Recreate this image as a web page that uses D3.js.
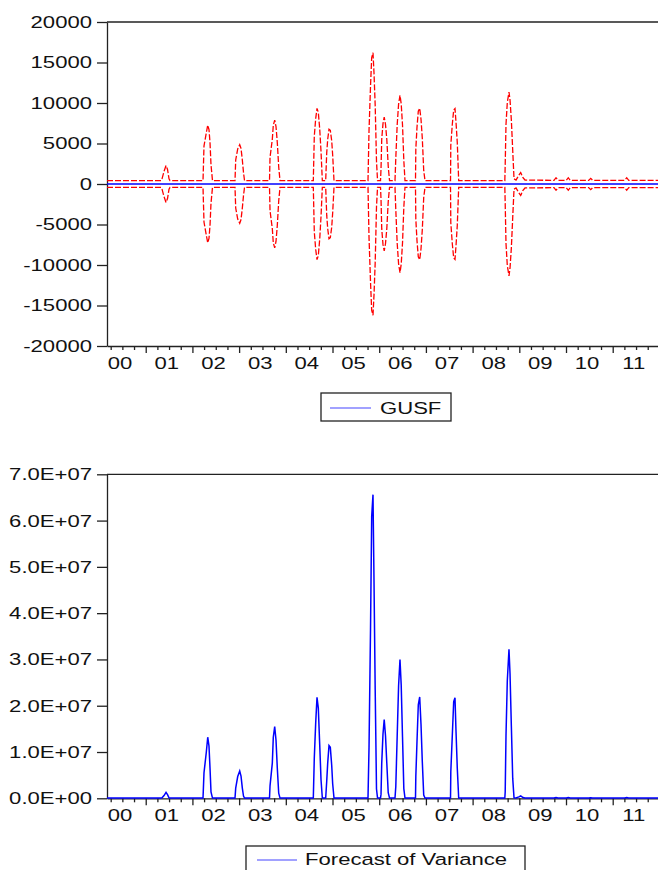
<!DOCTYPE html>
<head>
<meta charset="utf-8">
<title>GUSF forecast</title>
<style>
html, body { margin:0; padding:0; background:#fff; overflow:hidden; }
svg { display:block; }
text { font-family: 'Liberation Sans', Arial, sans-serif; font-size: 17px; fill: #111; }
</style>
</head>
<body>
<svg id="stage" width="658" height="870"></svg>
<script src="https://d3js.org/d3.v7.min.js"></script>
<script>

var years = ["00","01","02","03","04","05","06","07","08","09","10","11"];

var gusfTicks = [-20000, -15000, -10000, -5000, 0, 5000, 10000, 15000, 20000];
var gusfTickLabels = ["-20000","-15000","-10000","-5000","0","5000","10000","15000","20000"];

var varTicks = [0, 1e7, 2e7, 3e7, 4e7, 5e7, 6e7, 7e7];
var varTickLabels = ["0.0E+00","1.0E+07","2.0E+07","3.0E+07","4.0E+07","5.0E+07","6.0E+07","7.0E+07"];

// GUSF forecast: flat at zero over the whole sample
var gusf = [[2000.171, 0], [2011.970, 0]];

// forecast variance, [date (decimal year), value]
var variance = [
  [2000.171, 4.2e4], [2001.328, 4.2e4],
  [2001.349, 0.1e6], [2001.392, 0.6e6], [2001.435, 1.3e6], [2001.467, 0.8e6], [2001.499, 0.1e6],
  [2001.520, 4.2e4], [2002.227, 4.2e4],
  [2002.248, 5.5e6], [2002.298, 10.0e6], [2002.328, 13.2e6], [2002.355, 11.3e6], [2002.377, 6.5e6], [2002.398, 1.4e6],
  [2002.430, 4.2e4], [2002.912, 4.2e4],
  [2002.927, 2.2e6], [2002.970, 4.7e6], [2003.013, 5.9e6], [2003.041, 4.8e6], [2003.069, 2.2e6], [2003.094, 0.5e6],
  [2003.116, 4.2e4], [2003.651, 4.2e4],
  [2003.662, 2.7e6], [2003.711, 7.6e6], [2003.732, 13.2e6], [2003.762, 15.5e6], [2003.790, 12.6e6], [2003.818, 6.5e6], [2003.848, 1.1e6],
  [2003.876, 4.2e4], [2004.589, 4.2e4],
  [2004.610, 8.7e6], [2004.640, 16.3e6], [2004.668, 21.8e6], [2004.696, 19.5e6], [2004.726, 11.6e6], [2004.754, 4.0e6],
  [2004.782, 4.2e4], [2004.854, 4.2e4],
  [2004.876, 3.7e6], [2004.897, 7.6e6], [2004.925, 11.4e6], [2004.953, 11.0e6], [2004.983, 7.1e6], [2005.004, 3.1e6],
  [2005.032, 4.2e4], [2005.760, 4.2e4],
  [2005.782, 11.0e6], [2005.814, 36.6e6], [2005.839, 60.9e6], [2005.867, 65.6e6], [2005.889, 46.5e6], [2005.914, 23.5e6], [2005.942, 2.0e6],
  [2005.964, 4.2e4], [2006.028, 4.2e4],
  [2006.039, 0.9e6], [2006.054, 7.6e6], [2006.081, 13.9e6], [2006.107, 17.0e6], [2006.135, 13.5e6], [2006.163, 7.5e6], [2006.193, 1.2e6],
  [2006.221, 4.2e4], [2006.338, 4.2e4],
  [2006.355, 2.5e6], [2006.385, 13.4e6], [2006.415, 24.3e6], [2006.445, 30.0e6], [2006.471, 24.5e6], [2006.499, 13.3e6], [2006.527, 2.1e6],
  [2006.552, 4.2e4], [2006.777, 4.2e4],
  [2006.784, 4.7e6], [2006.809, 12.2e6], [2006.837, 20.2e6], [2006.867, 21.9e6], [2006.895, 16.0e6], [2006.923, 7.9e6], [2006.953, 0.7e6],
  [2006.981, 4.2e4], [2007.527, 4.2e4],
  [2007.533, 5.7e6], [2007.565, 13.5e6], [2007.595, 20.9e6], [2007.623, 21.7e6], [2007.645, 14.4e6], [2007.672, 6.5e6],
  [2007.702, 4.2e4], [2008.690, 4.2e4],
  [2008.698, 1.4e6], [2008.715, 13.5e6], [2008.743, 25.4e6], [2008.779, 32.2e6], [2008.801, 27.0e6], [2008.830, 15.5e6], [2008.859, 4.3e6],
  [2008.887, 0.1e6], [2008.930, 6e4], [2008.990, 0.3e6], [2009.030, 0.5e6], [2009.079, 0.15e6], [2009.122, 6e4],
  [2009.743, 5e4], [2009.786, 0.15e6], [2009.829, 5e4],
  [2010.006, 5e4], [2010.049, 0.15e6], [2010.092, 5e4],
  [2010.486, 5e4], [2010.529, 0.12e6], [2010.572, 5e4],
  [2011.257, 5e4], [2011.300, 0.15e6], [2011.343, 5e4],
  [2011.970, 5e4]
];

var sx = 1.3; // the original's lettering is stretched sideways
var ink = "#222";

var svg = d3.select("#stage");

var x = d3.scaleLinear().domain([2000.171, 2011.970]).range([107, 658]);
var yTop = d3.scaleLinear().domain([-20000, 20000]).range([346, 22]);
var yBot = d3.scaleLinear().domain([0, 7e7]).range([798.3, 474.3]);

function yAxis(y, ticks, labels) {
  var g = svg.append("g").attr("transform", "translate(107,0)").attr("color", ink)
    .call(d3.axisLeft(y).tickValues(ticks).tickFormat(function(d, i) { return labels[i]; })
      .tickSize(10).tickSizeOuter(0));
  g.selectAll("line,path").attr("stroke-width", 1.3);
  g.selectAll("text").attr("x", -15 / sx).attr("transform", "scale(" + sx + ",1)");
}

function xAxis(yPos) {
  var quarters = d3.range(2000.25, 2011.76, 0.25);
  var g = svg.append("g").attr("transform", "translate(0," + yPos + ")").attr("color", ink)
    .call(d3.axisBottom(x).tickValues(quarters).tickFormat("").tickSizeOuter(0));
  g.selectAll(".tick line").attr("y2", function(d) { return Math.abs(d % 1) < 1e-9 ? 7 : 4; });
  g.selectAll("line,path").attr("stroke-width", 1.3);

  var lab = svg.append("g").attr("transform", "translate(0," + yPos + ")")
    .call(d3.axisBottom(x).tickValues(years.map(function(d, i) { return 2000.44 + i; }))
      .tickFormat(function(d, i) { return years[i]; }).tickSize(0).tickPadding(11));
  lab.select(".domain").remove();
  lab.selectAll("text").attr("transform", "scale(" + sx + ",1)");
}

function frameTop(yPos) {
  svg.append("line").attr("x1", 107).attr("x2", 658).attr("y1", yPos).attr("y2", yPos)
    .attr("stroke", ink).attr("stroke-width", 1.3);
}

function legend(bx, by, bw, bh, lx0, lx1, ly, tx, ty, label) {
  svg.append("rect").attr("x", bx).attr("y", by).attr("width", bw).attr("height", bh)
    .attr("fill", "#fff").attr("stroke", ink).attr("stroke-width", 1.3);
  svg.append("line").attr("x1", lx0).attr("x2", lx1).attr("y1", ly).attr("y2", ly)
    .attr("stroke", "#44f").attr("stroke-width", 1.2);
  svg.append("g").attr("transform", "translate(" + tx + "," + ty + ")")
    .append("text").attr("transform", "scale(" + sx + ",1)").text(label);
}

// ---- top panel: GUSF with +/- 2 S.E. bands (S.E. = sqrt of forecast variance)
frameTop(22);
yAxis(yTop, gusfTicks, gusfTickLabels);
xAxis(346);

var bandUp = d3.line().x(function(d) { return x(d[0]); }).y(function(d) { return yTop(2 * Math.sqrt(d[1])); });
var bandDn = d3.line().x(function(d) { return x(d[0]); }).y(function(d) { return yTop(-2 * Math.sqrt(d[1])); });

[bandUp, bandDn].forEach(function(l) {
  svg.append("path").datum(variance).attr("d", l)
    .attr("fill", "none").attr("stroke", "#f00").attr("stroke-width", 1.3)
    .attr("stroke-dasharray", "6,2");
});

svg.append("path").datum(gusf)
  .attr("d", d3.line().x(function(d) { return x(d[0]); }).y(function(d) { return yTop(d[1]); }))
  .attr("fill", "none").attr("stroke", "#00f").attr("stroke-width", 1.5);

legend(321, 393, 130, 28, 330, 371, 408, 380, 414, "GUSF");

// ---- bottom panel: forecast of variance
frameTop(474.3);
yAxis(yBot, varTicks, varTickLabels);
xAxis(798.3);

svg.append("path").datum(variance)
  .attr("d", d3.line().x(function(d) { return x(d[0]); }).y(function(d) { return yBot(d[1]); }))
  .attr("fill", "none").attr("stroke", "#00f").attr("stroke-width", 1.5);

legend(246, 846, 279, 30, 257, 297, 860, 305, 865, "Forecast of Variance");

</script>
</body>
</html>
